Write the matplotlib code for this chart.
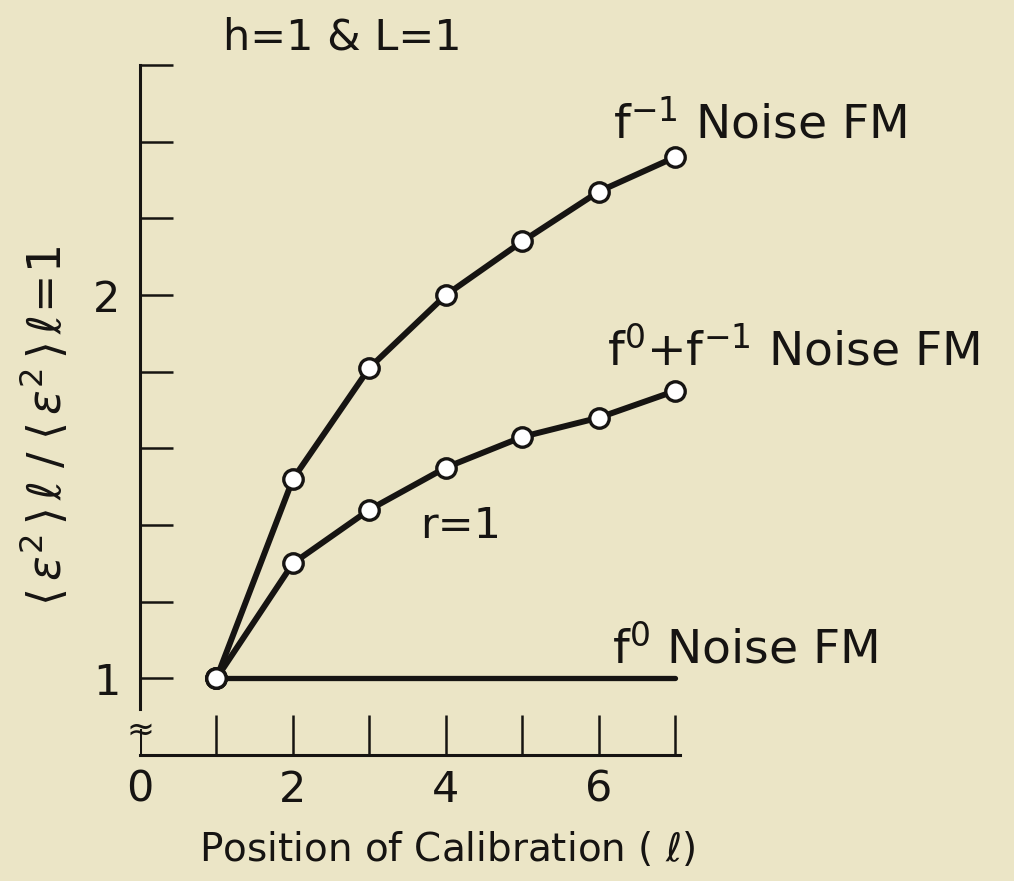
import matplotlib
matplotlib.use("Agg")
from matplotlib import pyplot as plt

# Data
position = [1, 2, 3, 4, 5, 6, 7]
fm_f_minus1 = [1.0, 1.52, 1.81, 2.0, 2.14, 2.27, 2.36]
fm_f0_plus_f_minus1 = [1.0, 1.30, 1.44, 1.55, 1.63, 1.68, 1.75]
fm_f0_x = [1, 7]
fm_f0 = [1.0, 1.0]

curve_labels = [r'f$^{-1}$ Noise FM', r'f$^{0}$+f$^{-1}$ Noise FM', r'f$^{0}$ Noise FM']
xtick_major = [0, 2, 4, 6]
xtick_minor = [1, 3, 5, 7]
ytick_major = [1, 2]
ytick_minor = [1.2, 1.4, 1.6, 1.8, 2.2, 2.4, 2.6]

bg = '#ebe5c6'
ink = '#161412'

plt.rcParams['mathtext.fontset'] = 'dejavusans'
plt.rcParams['font.family'] = ['DejaVu Sans']

fig = plt.figure(figsize=(10.14, 8.81), dpi=100, facecolor=bg)
ax = fig.add_axes([140 / 1014, 126 / 881, 540 / 1014, 690 / 881])
ax.set_facecolor(bg)
ax.set_xlim(0, 7.06)
ax.set_ylim(0.8, 2.6)

# Curves
line_kw = dict(color=ink, solid_capstyle='round', clip_on=False, zorder=3)
marker_kw = dict(marker='o', markersize=14, markerfacecolor='white',
                 markeredgecolor=ink, markeredgewidth=2.4)
ax.plot(fm_f0_x, fm_f0, lw=3.8, **line_kw)
ax.plot(position, fm_f_minus1, lw=4.3, **line_kw, **marker_kw)
ax.plot(position, fm_f0_plus_f_minus1, lw=4.3, **line_kw, **marker_kw)
# marker at (1, 1) on top of the flat line
ax.plot(position[:1], fm_f0[:1], linestyle='none', clip_on=False, zorder=4, **marker_kw)

# Spines
for s in ['top', 'right']:
    ax.spines[s].set_visible(False)
for s in ['left', 'bottom']:
    ax.spines[s].set_linewidth(2.2)
    ax.spines[s].set_color(ink)
ax.spines['left'].set_bounds(0.92, 2.6)
ax.axvline(0, ymin=0, ymax=0.036, color=ink, lw=2.2)
ax.text(0, 0.865, '≈', fontsize=24, ha='center', va='center', color=ink)

# Ticks
ax.set_xticks(xtick_major)
ax.set_xticks(xtick_minor, minor=True)
ax.set_yticks(ytick_major)
ax.set_yticks(ytick_minor, minor=True)
ax.set_yticklabels(['1', '2'])
ax.tick_params(axis='x', which='both', direction='in', length=29, width=1.8,
               color=ink, labelsize=31, labelcolor=ink, pad=10)
ax.tick_params(axis='y', which='both', direction='in', length=24, width=1.8,
               color=ink, labelsize=31, labelcolor=ink, pad=14)
ax.xaxis.get_major_ticks()[0].tick1line.set_visible(False)

# Labels
ax.set_xlabel(r'Position of Calibration ( $\ell$)', fontsize=28, color=ink, x=0.569, labelpad=14)
ax.set_ylabel(r'$\langle\,\epsilon^2\,\rangle\,\ell\;/\;\langle\,\epsilon^2\,\rangle\,\ell\!=\!1$',
              fontsize=33, color=ink)
ax.yaxis.set_label_coords(-0.128, 0.477)

fig.text(223 / 1014, 1 - 50 / 881, 'h=1 & L=1', fontsize=31, color=ink, ha='left', va='baseline')

ax.text(6.18, 2.41, curve_labels[0], fontsize=34, color=ink, ha='left', va='baseline')
ax.text(6.10, 1.817, curve_labels[1], fontsize=34, color=ink, ha='left', va='baseline')
ax.text(6.17, 1.039, curve_labels[2], fontsize=34, color=ink, ha='left', va='baseline')
ax.text(3.66, 1.366, 'r=1', fontsize=31, color=ink, ha='left', va='baseline')

fig.savefig('out.png', dpi=100, facecolor=bg)
